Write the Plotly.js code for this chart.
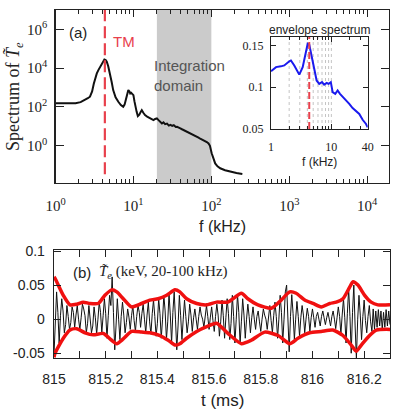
<!DOCTYPE html>
<html>
<head>
<meta charset="utf-8">
<script src="https://cdn.plot.ly/plotly-3.0.1.min.js"></script>
<style>
  html, body { margin: 0; padding: 0; background: #fff; }
  #chart { width: 395px; height: 413px; }
</style>
</head>
<body>
<div id="chart"></div>
<script>
// ---- (a) spectrum of the Te fluctuation ----
const fSpec = [1.0, 1.3, 1.81, 2.1, 2.39, 2.6, 2.77, 2.95, 3.1, 3.25, 3.39, 3.55, 3.72, 3.9, 4.05, 4.24, 4.4, 4.55, 4.75, 5.0,
  5.25, 5.5, 5.9, 6.4, 6.9, 7.4, 7.7, 7.98, 8.3, 8.6, 8.9, 9.1, 9.35, 9.7, 10.0, 10.3, 10.6, 11.0, 11.4, 11.9,
  12.4, 12.8, 13.4, 14.1, 15.0, 16.4, 17.2, 18.1, 19.0, 20, 21, 22, 23.2, 24.3, 25.5, 27, 28.5, 29.8, 31.5, 33,
  35, 36.3, 38, 40, 42, 44, 46, 48.5, 51, 53.5, 56, 59, 62, 65, 68.5, 72, 75.5, 79, 83, 87.5,
  92, 96, 101, 106, 112, 120, 130, 150, 175, 210, 250];
const sSpec = [155, 155, 155, 178, 229, 282, 339, 631, 1585, 3162, 5370, 7943, 1.17e4, 1.58e4, 2.24e4, 2.82e4, 2.63e4, 2.14e4, 1.26e4, 5370,
  2000, 741, 316, 186, 126, 102, 132, 229, 447, 741, 631, 501, 537, 479, 407, 200, 100, 56, 34, 40,
  56, 69, 50, 38, 32, 26, 23, 21, 24, 26, 21, 17, 14, 16, 13, 14, 11, 12, 10.5, 11.5,
  9.3, 9.5, 8.3, 7.9, 7.1, 6.5, 6.0, 5.5, 5.0, 4.4, 4.2, 3.5, 3.3, 2.9, 2.6, 2.3, 2.1, 1.95, 1.74, 1.55,
  1.32, 1.0, 0.41, 0.22, 0.123, 0.087, 0.069, 0.055, 0.046, 0.039, 0.035];

// tearing-mode frequency (kHz) and integration band (kHz)
const tmFreq = 4.3;
const integBand = [20, 100];

// axis ticks of panel (a)
const fTicks = [1, 10, 100, 1000, 10000];
const fTickText = ['10<sup>0</sup>', '10<sup>1</sup>', '10<sup>2</sup>', '10<sup>3</sup>', '10<sup>4</sup>'];
const sTicks = [1, 100, 1e4, 1e6];
const sTickText = ['10<sup>0</sup>', '10<sup>2</sup>', '10<sup>4</sup>', '10<sup>6</sup>'];

// ---- inset: envelope spectrum ----
const envF = [1.0, 1.21, 1.46, 1.66, 2.01, 2.14, 2.43, 2.94, 3.35, 3.7, 4.05, 4.3, 4.6, 5.2, 5.7, 6.3, 7.0, 7.6, 8.4, 9.0,
  9.8, 10.5, 11.6, 12.7, 13.9, 15.8, 17.5, 19.8, 22.5, 25.5, 29, 33, 37.5, 40];
const envS = [0.119, 0.124, 0.1249, 0.126, 0.131, 0.132, 0.126, 0.115, 0.124, 0.138, 0.152, 0.151, 0.142, 0.122, 0.108, 0.104, 0.106, 0.103, 0.105, 0.104,
  0.106, 0.094, 0.092, 0.096, 0.092, 0.088, 0.084, 0.080, 0.075, 0.072, 0.068, 0.061, 0.056, 0.052];
const envGridF = [2, 3, 4, 5, 6, 7, 8, 9, 10];
const insetTicks = [1, 10, 40];
const insetTickText = ['1', '10', '40'];
const insetMinor = [2, 3, 4, 5, 6, 7, 8, 9, 20, 30];
const insetYTicks = [0.05, 0.1, 0.15];
const insetYTickText = ['0.05', '0.1', '0.15'];

// ---- (b) filtered Te signal (keV), sampled every 5 us from 815 ms ----
const sigT0 = 815;
const sigDt = 0.005;
const sigTe = [
  -0.052, -0.01, 0.04, 0.01, -0.035, 0.005, 0.03, 0.012, -0.02, -0.008,
  0.02, 0.004, -0.015, -0.005, 0.018, 0.01, -0.012, 0.006, 0.02, 0.0,
  -0.015, 0.002, 0.022, 0.015, 0.005, -0.02, -0.006, 0.02, 0.004, -0.02,
  -0.01, 0.018, 0.002, -0.022, 0.0, 0.025, 0.01, -0.02, 0.005, 0.03,
  0.008, -0.028, 0.005, 0.035, 0.02, 0.062, 0.01, -0.045, -0.01, 0.03,
  0.0, -0.03, 0.004, 0.025, 0.006, -0.02, -0.005, 0.015, 0.003, -0.015,
  0.005, 0.02, -0.002, -0.018, 0.004, 0.02, 0.01, -0.012, 0.008, 0.022,
  0.0, -0.02, 0.006, 0.025, -0.004, -0.022, 0.008, 0.028, 0.004, -0.025,
  -0.006, 0.03, 0.008, -0.028, 0.0, 0.035, 0.012, -0.03, -0.004, 0.038,
  0.006, -0.035, 0.01, 0.04, 0.0, -0.045, -0.01, 0.035, 0.005, -0.03,
  0.0, 0.028, 0.004, -0.02, -0.004, 0.022, 0.006, -0.018, 0.002, 0.015,
  0.0, -0.015, 0.004, 0.018, 0.006, 0.0, -0.012, 0.002, 0.02, 0.004,
  -0.015, 0.003, 0.018, -0.002, -0.018, 0.004, 0.022, 0.006, -0.025, -0.004,
  0.028, 0.005, -0.028, 0.002, 0.03, 0.008, -0.03, -0.006, 0.035, 0.004,
  -0.035, 0.0, 0.036, 0.01, -0.036, -0.004, 0.03, 0.006, -0.028, 0.0,
  0.022, 0.004, -0.02, 0.002, 0.018, 0.0, -0.015, 0.004, 0.012, -0.004,
  -0.018, 0.0, 0.015, 0.006, 0.0, -0.015, 0.004, 0.02, -0.002, -0.02,
  0.005, 0.025, 0.004, -0.028, 0.0, 0.035, 0.01, -0.035, 0.0, 0.04,
  0.05, 0.006, -0.048, 0.004, 0.036, 0.008, -0.03, 0.0, 0.026, 0.004,
  -0.025, 0.002, 0.02, 0.006, -0.02, 0.0, 0.016, 0.004, -0.018, 0.002,
  0.015, 0.002, -0.012, 0.004, 0.01, 0.0, -0.01, 0.004, 0.012, 0.002,
  -0.008, 0.002, 0.01, 0.0, -0.01, 0.004, 0.012, 0.0, -0.014, 0.002,
  0.018, 0.004, -0.022, 0.006, 0.03, 0.002, -0.035, 0.008, 0.045, 0.004,
  -0.05, 0.01, 0.05, -0.01, -0.058, 0.0, 0.035, 0.006, -0.03, 0.004,
  0.028, -0.002, -0.02, 0.004, 0.02, -0.004, -0.018, 0.015, -0.015, 0.012,
  -0.012, 0.014, -0.01, 0.012, -0.015, 0.01, -0.012, 0.014, -0.01, 0.012,
  -0.008
];

// upper and lower envelopes of the signal
const envUpT = [815.0, 815.004, 815.036, 815.062, 815.088, 815.113, 815.139, 815.171, 815.197, 815.223, 815.243, 815.268, 815.3,
  815.339, 815.371, 815.403, 815.436, 815.468, 815.487, 815.513, 815.552, 815.591, 815.629, 815.673, 815.725, 815.75,
  815.789, 815.841, 815.879, 815.912, 815.937, 815.97, 816.002, 816.034, 816.067, 816.092, 816.118, 816.144, 816.157,
  816.176, 816.202, 816.227, 816.253, 816.3];
const envUp = [0.062, 0.060, 0.035, 0.021, 0.022, 0.025, 0.023, 0.023, 0.035, 0.043, 0.040, 0.030, 0.018,
  0.023, 0.028, 0.030, 0.035, 0.043, 0.040, 0.030, 0.023, 0.021, 0.025, 0.025, 0.038, 0.030,
  0.021, 0.016, 0.028, 0.040, 0.038, 0.028, 0.023, 0.018, 0.023, 0.025, 0.030, 0.047, 0.055,
  0.050, 0.035, 0.025, 0.021, 0.021];
const envLoT = [815.0, 815.004, 815.036, 815.062, 815.088, 815.12, 815.152, 815.191, 815.223, 815.243, 815.268, 815.3,
  815.339, 815.371, 815.41, 815.442, 815.468, 815.487, 815.513, 815.552, 815.591, 815.629, 815.673, 815.725,
  815.763, 815.815, 815.867, 815.912, 815.944, 815.989, 816.034, 816.079, 816.118, 816.15, 816.169, 816.189,
  816.221, 816.247, 816.3];
const envLo = [-0.056, -0.050, -0.028, -0.016, -0.014, -0.020, -0.023, -0.021, -0.031, -0.036, -0.029, -0.018,
  -0.019, -0.020, -0.024, -0.031, -0.038, -0.036, -0.028, -0.018, -0.011, -0.006, -0.021, -0.036,
  -0.031, -0.019, -0.024, -0.036, -0.028, -0.020, -0.018, -0.016, -0.024, -0.038, -0.047, -0.038,
  -0.024, -0.016, -0.015];

// axis ticks of panel (b)
const tTicks = [815, 815.2, 815.4, 815.6, 815.8, 816, 816.2];
const tTickText = ['815', '815.2', '815.4', '815.6', '815.8', '816', '816.2'];
const tMinor = [815.1, 815.3, 815.5, 815.7, 815.9, 816.1];
const vTicks = [-0.05, 0, 0.05, 0.1];
const vTickText = ['-0.05', '0', '0.05', '0.1'];

// minor ticks of a log axis: 2..9 in every decade
function logMinor(d0, d1) {
  const out = [];
  for (let d = d0; d < d1; d++) for (let m = 2; m <= 9; m++) out.push(m * Math.pow(10, d));
  return out;
}

const W = 395, H = 413;
const px = v => v / W;
const py = v => 1 - v / H;

const SERIF = 'Liberation Serif, Times New Roman, serif';
const SANS = 'Liberation Sans, Arial, sans-serif';
const INK = '#222';

const traces = [
  { x: fSpec, y: sSpec, xaxis: 'x', yaxis: 'y', mode: 'lines',
    line: { color: '#111', width: 2 }, hoverinfo: 'skip' },
  { x: envF, y: envS, xaxis: 'x3', yaxis: 'y3', mode: 'lines',
    line: { color: '#1a1aee', width: 2 }, hoverinfo: 'skip' },
  { y: sigTe, x0: sigT0, dx: sigDt, xaxis: 'x2', yaxis: 'y2', mode: 'lines',
    line: { color: '#111', width: 1 }, hoverinfo: 'skip' },
  { x: envUpT, y: envUp, xaxis: 'x2', yaxis: 'y2', mode: 'lines',
    line: { color: '#f01010', width: 3.5, shape: 'spline', smoothing: 0.6 }, hoverinfo: 'skip' },
  { x: envLoT, y: envLo, xaxis: 'x2', yaxis: 'y2', mode: 'lines',
    line: { color: '#f01010', width: 3.5, shape: 'spline', smoothing: 0.6 }, hoverinfo: 'skip' }
];

const frame = {
  showline: true, linecolor: INK, linewidth: 1.3, mirror: 'ticks',
  ticks: 'inside', tickcolor: INK, showgrid: false, zeroline: false, fixedrange: true
};

const shapes = [
  { type: 'rect', xref: 'x', yref: 'y domain', x0: integBand[0], x1: integBand[1], y0: 0, y1: 1,
    fillcolor: '#cbcbcb', line: { width: 0 }, layer: 'below' },
  { type: 'line', xref: 'x', yref: 'y domain', x0: tmFreq, x1: tmFreq, y0: 0.05, y1: 1,
    line: { color: '#e8404c', width: 2.2, dash: '12px,5px' } },
  { type: 'line', xref: 'x3', yref: 'y3 domain', x0: tmFreq, x1: tmFreq, y0: 0, y1: 1,
    line: { color: '#e8404c', width: 2, dash: '7px,3px' } }
];
envGridF.forEach(f => shapes.push({
  type: 'line', xref: 'x3', yref: 'y3 domain', x0: f, x1: f, y0: 0, y1: 1, layer: 'below',
  line: { color: '#c4c4c4', width: 1, dash: 'dot' }
}));

const annotations = [
  { text: 'Spectrum of <i>T̃</i><sub><i>e</i></sub>', x: px(14), y: py(97), textangle: -90,
    font: { family: SERIF, size: 18, color: INK } },
  { text: 'f (kHz)', x: px(222), y: py(227), font: { family: SANS, size: 16, color: INK } },
  { text: 't (ms)', x: px(222), y: py(400), font: { family: SANS, size: 17, color: INK } },
  { text: '(a)', x: px(67), y: py(32), xanchor: 'left', font: { family: SANS, size: 15, color: INK } },
  { text: 'TM', x: px(111), y: py(42), xanchor: 'left', font: { family: SANS, size: 15, color: '#e8404c' } },
  { text: 'Integration<br>domain', x: px(152), y: py(75), xanchor: 'left', align: 'left',
    font: { family: SANS, size: 15, color: '#555' } },
  { text: 'envelope spectrum', x: px(319), y: py(30), font: { family: SANS, size: 12, color: INK } },
  { text: 'f (kHz)', x: px(319), y: py(162), font: { family: SANS, size: 12, color: INK } },
  { text: '(b)', x: px(71), y: py(272), xanchor: 'left', font: { family: SANS, size: 15, color: INK } },
  { text: '<i>T̃</i><sub><i>e</i></sub> (keV, 20-100 kHz)', x: px(97), y: py(272), xanchor: 'left',
    font: { family: SERIF, size: 15, color: INK } }
].map(a => Object.assign({ xref: 'paper', yref: 'paper', showarrow: false, xanchor: 'center', yanchor: 'middle' }, a));

const layout = {
  width: W, height: H,
  margin: { l: 0, r: 0, t: 0, b: 0 },
  paper_bgcolor: '#fff', plot_bgcolor: 'rgba(0,0,0,0)',
  showlegend: false,
  xaxis: Object.assign({}, frame, {
    domain: [px(55.5), px(389)], anchor: 'y', type: 'log', range: [0, 4.28],
    tickmode: 'array', tickvals: fTicks, ticktext: fTickText, ticklen: 7,
    ticklabelstandoff: 9,
    tickfont: { family: SERIF, size: 15, color: INK },
    minor: { tickmode: 'array', tickvals: logMinor(0, 4).concat([2e4]), ticks: 'inside', ticklen: 4, tickcolor: INK }
  }),
  yaxis: Object.assign({}, frame, {
    domain: [py(183), py(10)], anchor: 'x', type: 'log', range: [-1.92, 7],
    tickmode: 'array', tickvals: sTicks, ticktext: sTickText, ticklen: 8,
    ticklabelstandoff: 4,
    tickfont: { family: SERIF, size: 15, color: INK }
  }),
  xaxis2: Object.assign({}, frame, {
    domain: [px(54), px(390)], anchor: 'y2', range: [815, 816.3],
    tickmode: 'array', tickvals: tTicks, ticktext: tTickText, ticklen: 7,
    ticklabelstandoff: 8,
    tickfont: { family: SANS, size: 14, color: INK },
    minor: { tickmode: 'array', tickvals: tMinor, ticks: 'inside', ticklen: 7, tickcolor: INK }
  }),
  yaxis2: Object.assign({}, frame, {
    domain: [py(358), py(250)], anchor: 'x2', range: [-0.057, 0.1015],
    tickmode: 'array', tickvals: vTicks, ticktext: vTickText, ticklen: 7,
    ticklabelstandoff: 5,
    tickfont: { family: SANS, size: 14, color: INK }
  }),
  xaxis3: Object.assign({}, frame, {
    domain: [px(271), px(367.7)], anchor: 'y3', type: 'log', range: [0, Math.log10(40)],
    tickmode: 'array', tickvals: insetTicks, ticktext: insetTickText, ticklen: 5,
    ticklabelstandoff: 6, linewidth: 1.2,
    tickfont: { family: SERIF, size: 12, color: INK },
    minor: { tickmode: 'array', tickvals: insetMinor, ticks: 'inside', ticklen: 3, tickcolor: INK }
  }),
  yaxis3: Object.assign({}, frame, {
    domain: [py(129), py(37)], anchor: 'x3', range: [0.05, 0.16],
    tickmode: 'array', tickvals: insetYTicks, ticktext: insetYTickText, ticklen: 5,
    ticklabelstandoff: 4, linewidth: 1.2,
    tickfont: { family: SERIF, size: 12, color: INK }
  }),
  shapes: shapes,
  annotations: annotations
};

Plotly.newPlot('chart', traces, layout, { staticPlot: true, displayModeBar: false });
</script>
</body>
</html>
